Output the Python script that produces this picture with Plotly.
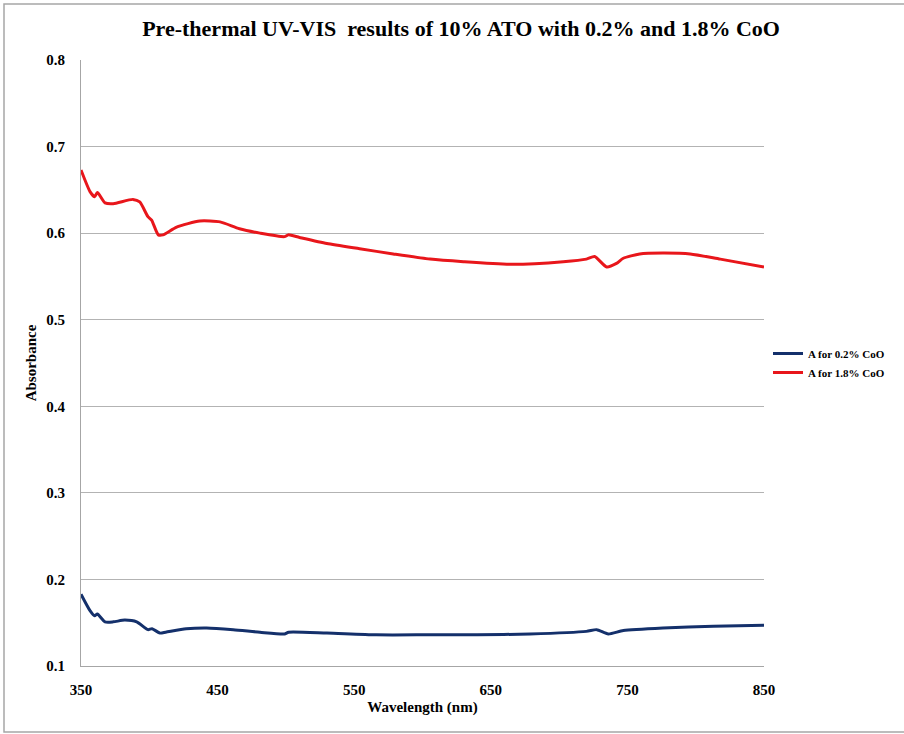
import plotly.graph_objects as go

wl_02 = [350, 356.6, 360, 362, 367.6, 373.6, 382, 390.8, 399, 402, 407.8, 412, 427, 442, 461.5, 481, 499, 502, 530, 566, 605, 640, 678.7, 720, 727.5, 736, 747, 776, 813, 850]
a_02 = [0.183, 0.164, 0.158, 0.160, 0.151, 0.151, 0.153, 0.151, 0.142, 0.143, 0.138, 0.139, 0.143, 0.144, 0.142, 0.139, 0.137, 0.139, 0.138, 0.136, 0.136, 0.136, 0.137, 0.140, 0.142, 0.137, 0.141, 0.144, 0.146, 0.147]

wl_18 = [350, 356.6, 360, 362, 367.6, 373.6, 388, 393, 399, 401.7, 406.6, 410, 420, 437, 451.8, 466, 481, 499, 501.8, 510, 530, 554, 578.6, 605.5, 630, 666, 703, 720, 726, 734.8, 742, 747, 759, 776, 796, 818, 850]
a_18 = [0.673, 0.648, 0.642, 0.647, 0.635, 0.634, 0.639, 0.636, 0.619, 0.615, 0.598, 0.598, 0.607, 0.614, 0.613, 0.605, 0.600, 0.596, 0.598, 0.595, 0.588, 0.582, 0.576, 0.570, 0.567, 0.564, 0.567, 0.570, 0.573, 0.561, 0.565, 0.571, 0.576, 0.577, 0.576, 0.570, 0.561]

x_ticks = [350, 450, 550, 650, 750, 850]
y_ticks = [0.1, 0.2, 0.3, 0.4, 0.5, 0.6, 0.7, 0.8]

font = "Liberation Serif"
W, H = 904, 734
L, R, T, B = 81, 140, 60, 68
pw, ph = W - L - R, H - T - B

fig = go.Figure()
fig.add_trace(go.Scatter(x=wl_02, y=a_02, mode="lines", name="<b>A for 0.2% CoO</b>",
                         line=dict(color="#14306b", width=3, shape="spline", smoothing=0.6)))
fig.add_trace(go.Scatter(x=wl_18, y=a_18, mode="lines", name="<b>A for 1.8% CoO</b>",
                         line=dict(color="#e8161b", width=3, shape="spline", smoothing=0.6)))

fig.update_layout(
    width=W, height=H,
    margin=dict(l=L, r=R, t=T, b=B, autoexpand=False),
    paper_bgcolor="white", plot_bgcolor="white",
    title=dict(text="<b>Pre-thermal UV-VIS  results of 10% ATO with 0.2% and 1.8% CoO</b>",
               x=0.51, xanchor="center", y=1 - 28 / H, yanchor="middle",
               font=dict(family=font, size=22, color="black")),
    xaxis=dict(range=[350, 850], tickvals=x_ticks, ticktext=["<b>%d</b>" % v for v in x_ticks],
               showgrid=False, showline=True, linecolor="#a6a6a6", linewidth=1,
               ticks="outside", tickcolor="rgba(0,0,0,0)", ticklen=10,
               tickfont=dict(family=font, size=15, color="black"),
               title=dict(text="<b>Wavelength (nm)</b>", font=dict(family=font, size=15, color="black"), standoff=4),
               zeroline=False),
    yaxis=dict(range=[0.1, 0.8], tickvals=y_ticks, ticktext=["<b>%.1f</b>" % v for v in y_ticks],
               showgrid=True, gridcolor="#b3b3b3", gridwidth=1,
               showline=True, linecolor="#a6a6a6", linewidth=1,
               ticks="outside", tickcolor="rgba(0,0,0,0)", ticklen=12,
               tickfont=dict(family=font, size=15, color="black"),
               title=dict(text="<b>Absorbance</b>", font=dict(family=font, size=15, color="black"), standoff=6),
               zeroline=False),
    legend=dict(x=1 + 4 / pw, y=0.5, xanchor="left", yanchor="middle",
                font=dict(family=font, size=11, color="black"),
                itemwidth=30, bgcolor="rgba(0,0,0,0)"),
    showlegend=True,
)

fig.add_shape(type="rect", xref="paper", yref="paper",
              x0=(4 - L) / pw, x1=(W + 5 - L) / pw,
              y0=(H - B - 732) / ph, y1=1 + (T - 4) / ph,
              line=dict(color="#a6a6a6", width=1.5), fillcolor="rgba(0,0,0,0)", layer="below")

fig.write_html("out.html", config={"displayModeBar": False},
               post_script="document.body.style.margin='0';document.body.style.overflow='hidden';")
